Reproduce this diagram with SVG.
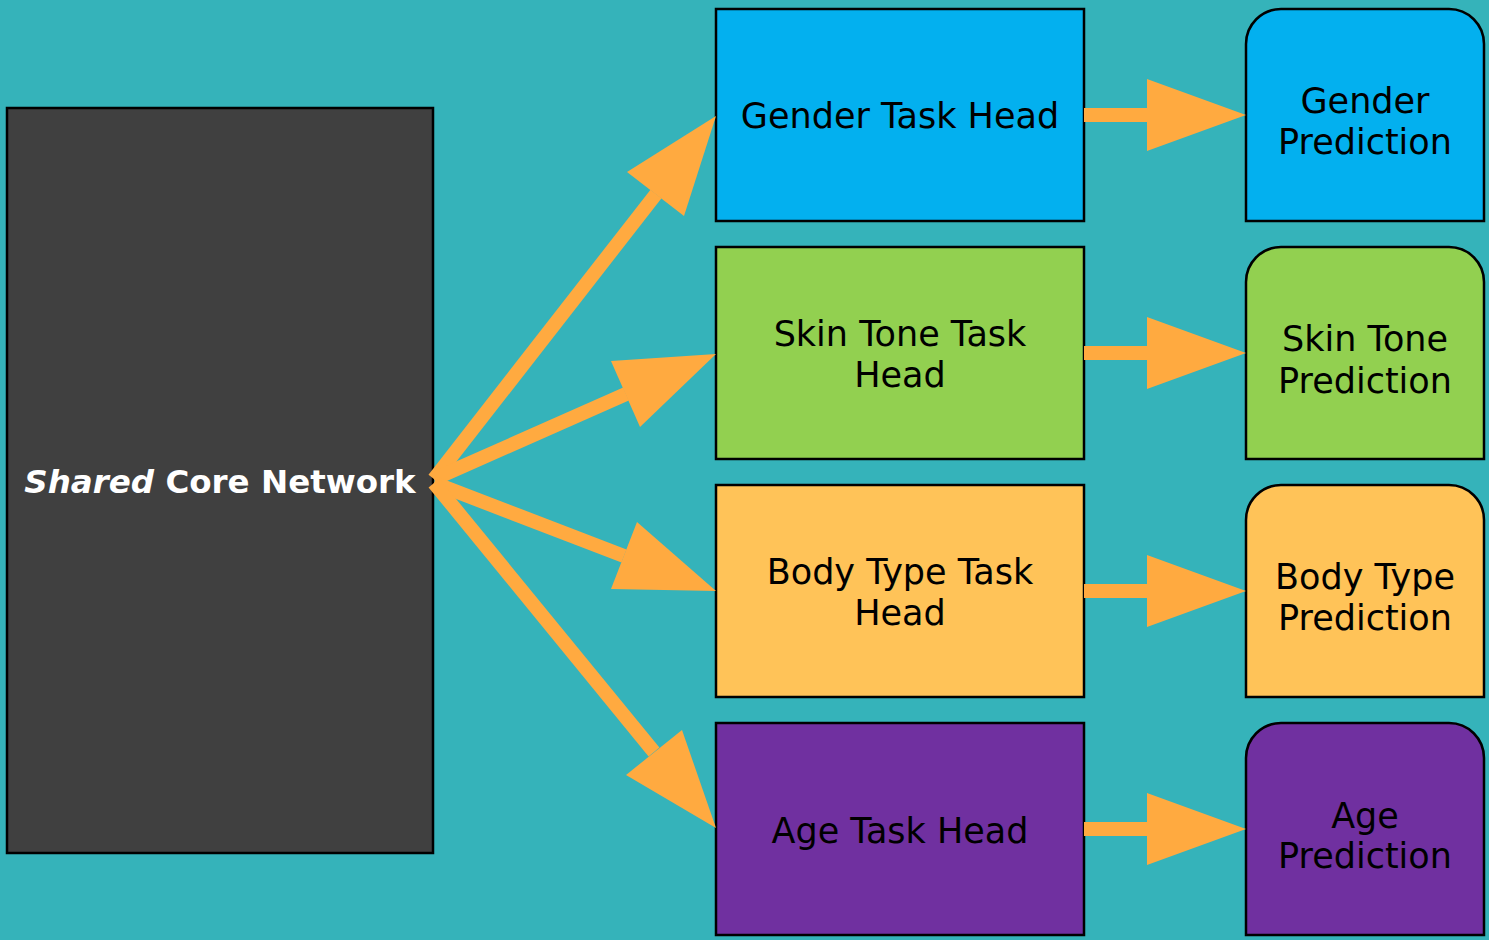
<svg xmlns="http://www.w3.org/2000/svg" width="1489" height="940" viewBox="0 0 1489 940">
<style>
.t{font-family:"DejaVu Sans","Liberation Sans",sans-serif;font-size:35px;fill:#000;text-anchor:middle}
.box{stroke:#000;stroke-width:2.5}
.sh{stroke:#FFAA40;stroke-width:14;fill:none}
.hd{fill:#FFAA40}
</style>
<rect width="1489" height="940" fill="#35B3BA"/>
<g id="core">
<rect class="box" x="7" y="108" width="426" height="745" fill="#404040"/>
<text x="220" y="493" font-family="DejaVu Sans,Liberation Sans,sans-serif" font-size="32.5" font-weight="bold" fill="#fff" text-anchor="middle"><tspan font-style="italic">Shared</tspan> Core Network</text>
</g>
<g id="gender-head"><rect class="box" x="716" y="9" width="368" height="212" fill="#03B0EF"/><text class="t" x="900" y="128">Gender Task Head</text></g>
<g id="skin-head"><rect class="box" x="716" y="247" width="368" height="212" fill="#92D050"/><text class="t" x="900" y="346">Skin Tone Task</text><text class="t" x="900" y="387">Head</text></g>
<g id="body-head"><rect class="box" x="716" y="485" width="368" height="212" fill="#FFC358"/><text class="t" x="900" y="584">Body Type Task</text><text class="t" x="900" y="625">Head</text></g>
<g id="age-head"><rect class="box" x="716" y="723" width="368" height="212" fill="#7030A0"/><text class="t" x="900" y="843">Age Task Head</text></g>
<g id="gender-pred"><path class="box" d="M1246,221 V44 A35,35 0 0 1 1281,9 H1449 A35,35 0 0 1 1484,44 V221 Z" fill="#03B0EF"/><text class="t" x="1365" y="113">Gender</text><text class="t" x="1365" y="154">Prediction</text></g>
<g id="skin-pred"><path class="box" d="M1246,459 V282 A35,35 0 0 1 1281,247 H1449 A35,35 0 0 1 1484,282 V459 Z" fill="#92D050"/><text class="t" x="1365" y="351">Skin Tone</text><text class="t" x="1365" y="393">Prediction</text></g>
<g id="body-pred"><path class="box" d="M1246,697 V520 A35,35 0 0 1 1281,485 H1449 A35,35 0 0 1 1484,520 V697 Z" fill="#FFC358"/><text class="t" x="1365" y="589">Body Type</text><text class="t" x="1365" y="630">Prediction</text></g>
<g id="age-pred"><path class="box" d="M1246,935 V758 A35,35 0 0 1 1281,723 H1449 A35,35 0 0 1 1484,758 V935 Z" fill="#7030A0"/><text class="t" x="1365" y="828">Age</text><text class="t" x="1365" y="868">Prediction</text></g>
<g id="connectors">
<line class="sh" x1="434" y1="479" x2="656" y2="194"/><polygon class="hd" points="627,172 716,116 684,216"/>
<line class="sh" x1="434" y1="479" x2="626" y2="394"/><polygon class="hd" points="611,361 716,354 640,427"/>
<line class="sh" x1="434" y1="483" x2="624" y2="556"/><polygon class="hd" points="637,522 716,591 611,589"/>
<line class="sh" x1="434" y1="483" x2="654" y2="752"/><polygon class="hd" points="682,730 716,828 626,775"/>
<rect class="hd" x="1084" y="108" width="64" height="14"/><polygon class="hd" points="1147,79 1246,115 1147,151"/>
<rect class="hd" x="1084" y="346" width="64" height="14"/><polygon class="hd" points="1147,317 1246,353 1147,389"/>
<rect class="hd" x="1084" y="584" width="64" height="14"/><polygon class="hd" points="1147,555 1246,591 1147,627"/>
<rect class="hd" x="1084" y="822" width="64" height="14"/><polygon class="hd" points="1147,793 1246,829 1147,865"/>
</g>
</svg>
